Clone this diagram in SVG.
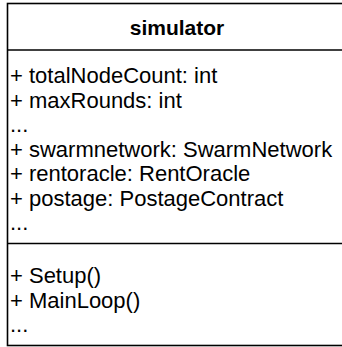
<svg xmlns="http://www.w3.org/2000/svg" width="342" height="347" viewBox="0 0 342 347">
  <style>
    .frame { fill: #ffffff; stroke: #000000; stroke-width: 1.6; }
    .rule { stroke: #000000; stroke-width: 1.6; fill: none; }
    .title { font-family: "Liberation Sans", Arial, Helvetica, sans-serif; font-size: 21px; font-weight: bold; fill: #000000; }
    .member { font-family: "Liberation Sans", Arial, Helvetica, sans-serif; font-size: 22px; fill: #000000; }
  </style>
  <rect width="342" height="347" fill="#ffffff"/>
  <g id="simulator">
    <rect class="frame" x="7.5" y="3.5" width="339" height="342"/>
    <text class="title" x="177" y="35" text-anchor="middle">simulator</text>
    <line class="rule" x1="7.5" y1="50" x2="346.5" y2="50"/>
    <g id="simulator-attributes">
      <text class="member" x="10" y="83">+ totalNodeCount: int</text>
      <text class="member" x="10" y="107.5">+ maxRounds: int</text>
      <text class="member" x="10" y="132">...</text>
      <text class="member" x="10" y="156.5">+ swarmnetwork: SwarmNetwork</text>
      <text class="member" x="10" y="181">+ rentoracle: RentOracle</text>
      <text class="member" x="10" y="205.5">+ postage: PostageContract</text>
      <text class="member" x="10" y="230">...</text>
    </g>
    <line class="rule" x1="7.5" y1="243.5" x2="346.5" y2="243.5"/>
    <g id="simulator-operations">
      <text class="member" x="10" y="283">+ Setup()</text>
      <text class="member" x="10" y="307.5">+ MainLoop()</text>
      <text class="member" x="10" y="332">...</text>
    </g>
  </g>
  <g id="connectors"/>
</svg>
